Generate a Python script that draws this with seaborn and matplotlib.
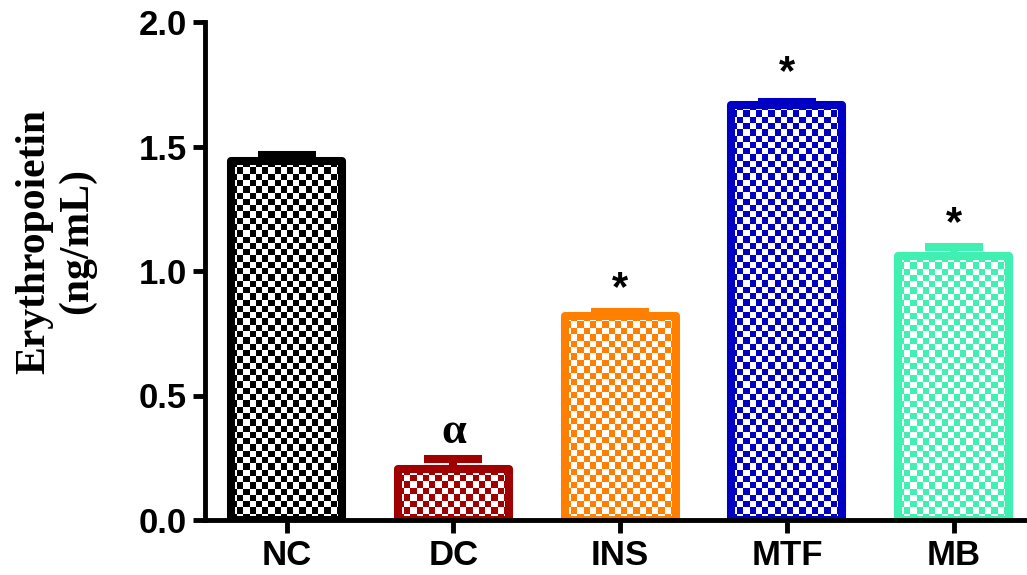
import numpy as np
import pandas as pd
import matplotlib
matplotlib.use("Agg")
import matplotlib.pyplot as plt
import seaborn as sns
from matplotlib.colors import to_rgba

# Group means, upper SEM and significance marks
groups = ["NC", "DC", "INS", "MTF", "MB"]
means = [1.44, 0.205, 0.82, 1.667, 1.06]
sems = [0.025, 0.04, 0.017, 0.013, 0.036]
marks = ["", "α", "*", "*", "*"]
colors = ["#000000", "#A00000", "#FF8000", "#0000C4", "#40F0B0"]
yticks = [0.0, 0.5, 1.0, 1.5, 2.0]

df = pd.DataFrame({"group": groups, "value": means})

sns.set_style("ticks")
plt.rcParams["font.family"] = ["Liberation Sans", "DejaVu Sans"]
plt.rcParams["text.color"] = "black"
plt.rcParams["axes.labelcolor"] = "black"
plt.rcParams["xtick.color"] = "black"
plt.rcParams["ytick.color"] = "black"

W, H = 1027, 575
fig = plt.figure(figsize=(W / 100, H / 100), dpi=100)
ax_l, ax_r, ax_t, ax_b = 205, 1027, 22, 520
ax = fig.add_axes([ax_l / W, (H - ax_b) / H, (ax_r - ax_l) / W, (ax_b - ax_t) / H])

lw = 5.8
sns.barplot(data=df, x="group", y="value", hue="group", palette=colors,
            order=groups, hue_order=groups, dodge=False, width=0.666,
            fill=False, linewidth=lw, errorbar=None, legend=False, ax=ax)

ax.set_xlim(-0.49, 4.44)
ax.set_ylim(0, 2.0)

# Checkerboard fill, clipped to each bar outline
px_x = (ax_r - ax_l) / (4.44 + 0.49)
px_y = (ax_b - ax_t) / 2.0
cell = 6.3
bars = ax.patches[:len(groups)]
for bar in bars:
    col = bar.get_edgecolor()
    x0, y0 = bar.get_x(), bar.get_y()
    w, h = bar.get_width(), bar.get_height()
    nx = max(1, int(round(w * px_x / cell)))
    ny = max(1, int(round(h * px_y / cell)))
    ii, jj = np.indices((ny, nx))
    mask = (ii + jj) % 2 == 0
    img = np.ones((ny, nx, 4))
    img[mask] = to_rgba(col)
    im = ax.imshow(img, extent=(x0, x0 + w, y0, y0 + h), origin="lower",
                   interpolation="nearest", aspect="auto", zorder=1.5)
    im.set_clip_path(bar)
    bar.set_zorder(2)
    bar.set_joinstyle("round")

ax.set_aspect("auto")
ax.set_xlim(-0.49, 4.44)
ax.set_ylim(0, 2.0)

# Upper error bars
for i, (m, s, c) in enumerate(zip(means, sems, colors)):
    ax.errorbar(i, m, yerr=[[0], [s]], fmt="none", ecolor=c,
                elinewidth=lw, capsize=21, capthick=lw, zorder=1.8)

# Significance marks
for i, (m, s, t) in enumerate(zip(means, sems, marks)):
    if not t:
        continue
    if t == "α":
        ax.annotate(t, (i, m + s), xytext=(0, 5), textcoords="offset points",
                    ha="center", va="bottom", fontsize=32, fontweight="bold",
                    family=["Liberation Serif", "DejaVu Serif"])
    else:
        off = 6 if i == 3 else 2
        ax.annotate(t, (i, m + s), xytext=(0, off), textcoords="offset points",
                    ha="center", va="bottom", fontsize=30, fontweight="bold")

ax.set_yticks(yticks)
ax.set_yticklabels([f"{v:.1f}" for v in yticks])
ax.set_xlabel("")
ax.set_ylabel("")
for side in ["top", "right"]:
    ax.spines[side].set_visible(False)
for side in ["left", "bottom"]:
    ax.spines[side].set_linewidth(3.5)
    ax.spines[side].set_color("black")
ax.spines["left"].set_bounds(0, 2.0)
ax.tick_params(axis="y", length=9, width=3.5, pad=4, labelsize=25)
ax.tick_params(axis="x", length=9, width=3.5, pad=5, labelsize=25)
for lab in ax.get_xticklabels() + ax.get_yticklabels():
    lab.set_fontweight("bold")

fig.text(56 / W, 1 - 241 / H, "Erythropoietin\n(ng/mL)", rotation=90,
         ha="center", va="center", multialignment="center",
         fontsize=30, fontweight="bold",
         family=["Liberation Serif", "DejaVu Serif"], linespacing=1.15)

fig.savefig("out.png", dpi=100)
